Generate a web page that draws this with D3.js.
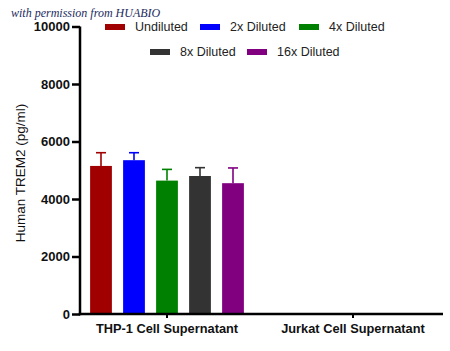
<!DOCTYPE html>
<html>
<head>
<meta charset="utf-8">
<script src="https://cdn.jsdelivr.net/npm/d3@7"></script>
<style>
  body { margin: 0; background: #fff; }
  svg { display: block; font-family: "Liberation Sans", Arial, sans-serif; }
</style>
</head>
<body>
<div id="chart"></div>
<script>
// groups on the x axis
const groups = ["THP-1 Cell Supernatant", "Jurkat Cell Supernatant"];
// dilution series
const series = ["Undiluted", "2x Diluted", "4x Diluted", "8x Diluted", "16x Diluted"];
const colors = ["#a00000", "#0000ff", "#008000", "#333333", "#800080"];
// mean values per series, one entry per group
const means = [
    [5150, 0],
    [5350, 0],
    [4640, 0],
    [4800, 0],
    [4550, 0]
];
// upper error (mean + sd)
const upper = [
    [5610, 0],
    [5610, 0],
    [5030, 0],
    [5090, 0],
    [5080, 0]
];
const yTicks = [0, 2000, 4000, 6000, 8000, 10000];

const width = 450;
const height = 351;
const marginLeft = 80;
const marginTop = 26.5;
const marginBottom = 37;

const svg = d3.select("#chart")
    .append("svg")
    .attr("width", width)
    .attr("height", height)
    .attr("viewBox", [0, 0, width, height]);

// Declare the scales.
const y = d3.scaleLinear()
    .domain([0, 10000])
    .range([height - marginBottom, marginTop]);

const x = d3.scaleBand()
    .domain(groups)
    .range([74, 446])
    .padding(0);

const xInner = d3.scaleBand()
    .domain(series)
    .range([-82.5, 82.5])
    .paddingInner(0.34)
    .paddingOuter(0.17);

// flatten data for drawing
const rows = [];
groups.forEach((g, gi) => {
    series.forEach((s, si) => {
        rows.push({ group: g, series: s, color: colors[si], mean: means[si][gi], hi: upper[si][gi] });
    });
});
const shown = rows.filter(d => d.mean > 0);
const cx = d => x(d.group) + x.bandwidth() / 2 + xInner(d.series) + xInner.bandwidth() / 2;

// bars
svg.append("g")
    .selectAll()
    .data(shown)
    .join("rect")
    .attr("x", d => x(d.group) + x.bandwidth() / 2 + xInner(d.series))
    .attr("y", d => y(d.mean))
    .attr("width", xInner.bandwidth())
    .attr("height", d => y(0) - y(d.mean))
    .attr("fill", d => d.color);

// error bars
const err = svg.append("g")
    .selectAll()
    .data(shown)
    .join("g")
    .attr("stroke", d => d.color)
    .attr("stroke-width", 1.6);
err.append("line")
    .attr("x1", cx)
    .attr("x2", cx)
    .attr("y1", d => y(d.mean))
    .attr("y2", d => y(d.hi));
err.append("line")
    .attr("x1", d => cx(d) - 5)
    .attr("x2", d => cx(d) + 5)
    .attr("y1", d => y(d.hi))
    .attr("y2", d => y(d.hi));

// y axis
svg.append("g")
    .attr("transform", `translate(${marginLeft},0)`)
    .call(d3.axisLeft(y).tickValues(yTicks).tickSize(8).tickSizeOuter(0).tickFormat(d3.format("d")))
    .call(g => g.selectAll("line").attr("stroke", "#000").attr("stroke-width", 2.5))
    .call(g => g.select(".domain").attr("stroke", "#000").attr("stroke-width", 2.5)
        .attr("d", `M0,${y(10000)}V${y(0) + 1.25}`))
    .call(g => g.selectAll("text")
        .attr("x", -10)
        .attr("fill", "#111")
        .style("font-size", "13px")
        .style("font-weight", "bold")
        .style("font-family", "'Liberation Sans', Arial, sans-serif"));

// x axis
svg.append("g")
    .attr("transform", `translate(0,${y(0)})`)
    .call(d3.axisBottom(x).tickSize(4).tickSizeOuter(0))
    .call(g => g.select(".domain").attr("stroke", "#000").attr("stroke-width", 2.5)
        .attr("d", `M${marginLeft - 1.25},0H443`))
    .call(g => g.selectAll("line").attr("stroke", "#000").attr("stroke-width", 2))
    .call(g => g.selectAll("text")
        .attr("y", 10)
        .attr("fill", "#111")
        .style("font-size", "12.8px")
        .style("font-weight", "bold")
        .style("font-family", "'Liberation Sans', Arial, sans-serif"));

// y axis title
svg.append("text")
    .attr("transform", `translate(25,173) rotate(-90)`)
    .attr("text-anchor", "middle")
    .attr("fill", "#111")
    .style("font-size", "13.5px")
    .text("Human TREM2 (pg/ml)");

// legend, two rows
const legendPos = [[105, 27], [200, 27], [299, 27], [150, 52], [247, 52]];
const legend = svg.append("g")
    .selectAll()
    .data(series)
    .join("g")
    .attr("transform", (d, i) => `translate(${legendPos[i][0]},${legendPos[i][1]})`);
legend.append("rect")
    .attr("x", 0)
    .attr("y", -3)
    .attr("width", 20)
    .attr("height", 6)
    .attr("fill", (d, i) => colors[i]);
legend.append("text")
    .attr("x", 30)
    .attr("dy", "0.35em")
    .attr("fill", "#222")
    .style("font-size", "12.5px")
    .text(d => d);

// watermark
svg.append("text")
    .attr("x", 11)
    .attr("y", 17)
    .attr("fill", "#1c2b5e")
    .style("font-family", "'Liberation Serif', serif")
    .style("font-style", "italic")
    .style("font-size", "12px")
    .text("with permission from HUABIO");
</script>
</body>
</html>
